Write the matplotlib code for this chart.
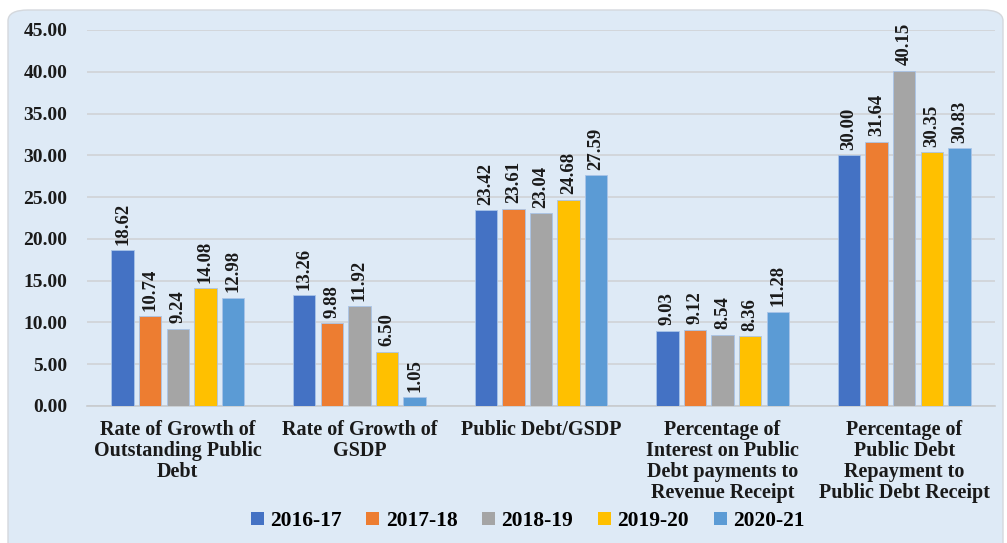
import matplotlib
matplotlib.use("Agg")
import matplotlib.pyplot as plt
from matplotlib.patches import FancyBboxPatch, Patch
import numpy as np

categories = [
    "Rate of Growth of\nOutstanding Public\nDebt",
    "Rate of Growth of\nGSDP",
    "Public Debt/GSDP",
    "Percentage of\nInterest on Public\nDebt payments to\nRevenue Receipt",
    "Percentage of\nPublic Debt\nRepayment to\nPublic Debt Receipt",
]
years = ["2016-17", "2017-18", "2018-19", "2019-20", "2020-21"]
v2016_17 = [18.62, 13.26, 23.42, 9.03, 30.00]
v2017_18 = [10.74, 9.88, 23.61, 9.12, 31.64]
v2018_19 = [9.24, 11.92, 23.04, 8.54, 40.15]
v2019_20 = [14.08, 6.50, 24.68, 8.36, 30.35]
v2020_21 = [12.98, 1.05, 27.59, 11.28, 30.83]
series = [v2016_17, v2017_18, v2018_19, v2019_20, v2020_21]
colors = ["#4472C4", "#ED7D31", "#A5A5A5", "#FFC000", "#5B9BD5"]
yticks = [0, 5, 10, 15, 20, 25, 30, 35, 40, 45]

plt.rcParams['font.family'] = ['Liberation Serif', 'DejaVu Serif']
plt.rcParams['font.weight'] = 'bold'

bg = "#DEEAF6"
ink = "#1a1a1a"
fig = plt.figure(figsize=(10.07, 5.43), dpi=100)
fig.patch.set_facecolor("white")
panel = FancyBboxPatch((8 / 1007, 0.0 - 0.02), (1003 - 8) / 1007, (543 - 10) / 543 + 0.02,
                       boxstyle="round,pad=0,rounding_size=0.02",
                       transform=fig.transFigure, facecolor=bg,
                       edgecolor="#D4D8DD", linewidth=1.0, zorder=-10)
fig.patches.append(panel)

ax = fig.add_axes([87 / 1007, 1 - 406 / 543, (995 - 87) / 1007, (406 - 30) / 543])
ax.set_facecolor("none")
ax.set_zorder(1)

x = np.arange(len(categories))
pitch = 0.152
width = 0.124
for i, (vals, c, yr) in enumerate(zip(series, colors, years)):
    xs = x + (i - 2) * pitch
    ax.bar(xs, vals, width=width, color=c, edgecolor="#A9C4E8",
           linewidth=0.6, label=yr, zorder=3)
    for xi, v in zip(xs, vals):
        ax.annotate(f"{v:.2f}", (xi, v), xytext=(0, 4), textcoords="offset points",
                    rotation=90, ha="center", va="bottom", fontsize=13.5,
                    fontweight="bold", color=ink)

ax.set_xlim(-0.5, 4.5)
ax.set_ylim(0, 45)
ax.set_yticks(yticks)
ax.set_yticklabels([f"{t:.2f}" for t in yticks], fontsize=14, fontweight="bold",
                   color=ink)
ax.set_xticks(x)
ax.set_xticklabels(categories, fontsize=14.5, fontweight="bold", color=ink,
                   linespacing=1.08)
ax.tick_params(axis="y", length=0, pad=14)
ax.tick_params(axis="x", length=0, pad=10)
ax.grid(axis="y", color="#D0D3D6", linewidth=1.2, zorder=0)
ax.set_axisbelow(True)
for s in ["top", "right", "left"]:
    ax.spines[s].set_visible(False)
ax.spines["bottom"].set_color("#C8CBCE")
ax.spines["bottom"].set_linewidth(1.2)

handles = [Patch(facecolor=c, edgecolor="none") for c in colors]
fig.legend(handles, years, loc="center", bbox_to_anchor=(0.524, 1 - 521 / 543),
           ncol=5, frameon=False, handlelength=0.6, handleheight=0.6,
           handletextpad=0.3, columnspacing=1.15,
           prop={"family": "Liberation Serif", "weight": "bold", "size": 15.5})

fig.savefig("out.png", dpi=100, facecolor=fig.get_facecolor())
